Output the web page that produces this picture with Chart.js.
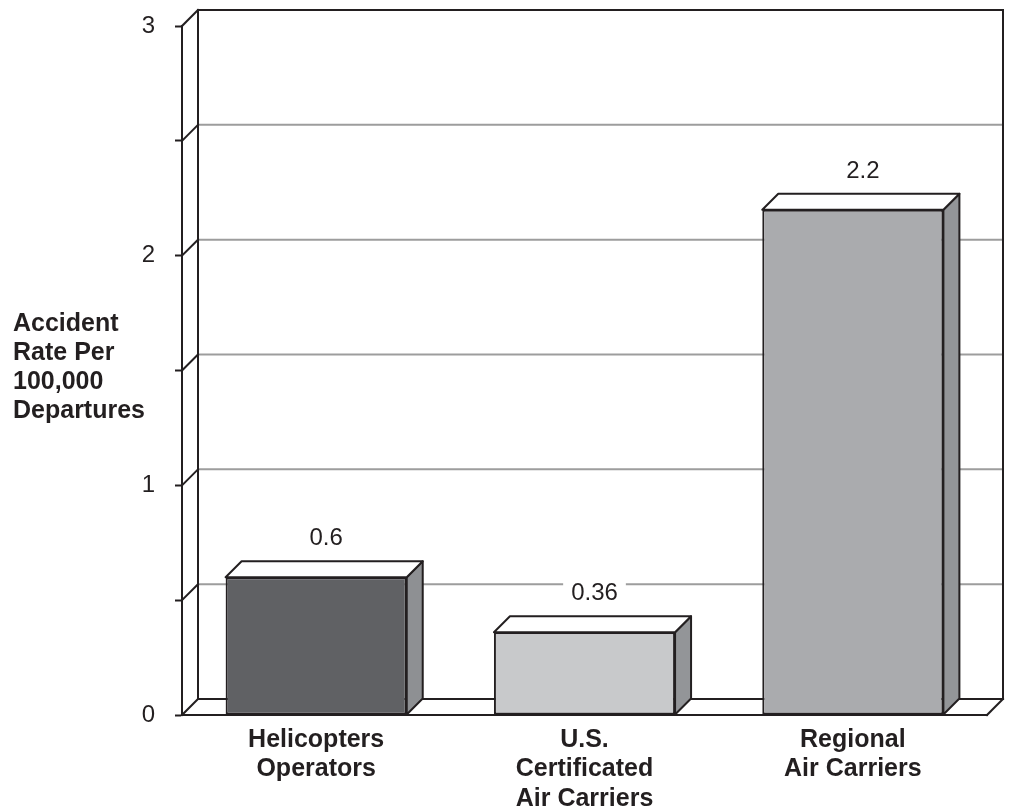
<!DOCTYPE html>
<html>
<head>
<meta charset="utf-8">
<script src="https://cdn.jsdelivr.net/npm/chart.js@4/dist/chart.umd.min.js"></script>
<style>
  html, body { margin: 0; padding: 0; background: #fff; }
  #wrap { width: 1012px; height: 806px; }
</style>
</head>
<body>
<div id="wrap"><canvas id="c" width="1012" height="806"></canvas></div>
<script>
// ---- data ----
const categories = [
  ['Helicopters', 'Operators'],
  ['U.S.', 'Certificated', 'Air Carriers'],
  ['Regional', 'Air Carriers']
];
const rates = [0.6, 0.36, 2.2];
const valueLabels = ['0.6', '0.36', '2.2'];
const yMin = 0, yMax = 3, yStep = 0.5;
const yLabelledTicks = [0, 1, 2, 3];
const yTitleLines = ['Accident', 'Rate Per', '100,000', 'Departures'];

// ---- styles ----
const frontColors = ['#606164', '#c8c9cb', '#aaabae'];
const sideColors = ['#8e9093', '#939598', '#939598'];
const INK = '#231f20';
const GRID = '#9d9d9d';
const FONT = '"Liberation Sans", Arial, Helvetica, sans-serif';
const DX = 16, DY = 16;

const depthPlugin = {
  id: 'depth3d',
  beforeDatasetsDraw(chart) {
    const { ctx, chartArea: a, scales: { y } } = chart;
    ctx.save();
    ctx.lineCap = 'square';
    // back-wall gridlines
    y.ticks.forEach(t => {
      const py = y.getPixelForValue(t.value);
      if (t.value > yMin && t.value < yMax) {
        ctx.strokeStyle = GRID; ctx.lineWidth = 2;
        ctx.beginPath();
        ctx.moveTo(a.left + DX, py - DY);
        ctx.lineTo(a.right + DX, py - DY);
        ctx.stroke();
      }
    });
    ctx.strokeStyle = INK; ctx.lineWidth = 2;
    // diagonals from the front axis to the back wall
    y.ticks.forEach(t => {
      const py = y.getPixelForValue(t.value);
      ctx.beginPath();
      ctx.moveTo(a.left, py);
      ctx.lineTo(a.left + DX, py - DY);
      ctx.stroke();
    });
    ctx.beginPath();
    ctx.moveTo(a.left + DX, a.bottom - DY);
    ctx.lineTo(a.left + DX, a.top - DY);
    ctx.lineTo(a.right + DX, a.top - DY);
    ctx.lineTo(a.right + DX, a.bottom - DY);
    ctx.lineTo(a.left + DX, a.bottom - DY);
    ctx.stroke();
    ctx.beginPath();
    ctx.moveTo(a.right, a.bottom);
    ctx.lineTo(a.right + DX, a.bottom - DY);
    ctx.stroke();

    // y axis title
    ctx.fillStyle = INK;
    ctx.font = 'bold 25px ' + FONT;
    ctx.textAlign = 'left';
    ctx.textBaseline = 'alphabetic';
    yTitleLines.forEach((s, i) => ctx.fillText(s, 13, 331 + i * 29));
    ctx.restore();
  },
  afterDatasetsDraw(chart) {
    const { ctx } = chart;
    const meta = chart.getDatasetMeta(0);
    ctx.save();
    ctx.strokeStyle = INK; ctx.lineWidth = 2; ctx.lineJoin = 'round';
    meta.data.forEach((bar, i) => {
      const p = bar.getProps(['x', 'y', 'base', 'width'], true);
      const l = p.x - p.width / 2, r = p.x + p.width / 2;
      // side face
      ctx.fillStyle = sideColors[i];
      ctx.beginPath();
      ctx.moveTo(r, p.y);
      ctx.lineTo(r + DX, p.y - DY);
      ctx.lineTo(r + DX, p.base - DY);
      ctx.lineTo(r, p.base);
      ctx.closePath();
      ctx.fill(); ctx.stroke();
      // top face
      ctx.fillStyle = '#ffffff';
      ctx.beginPath();
      ctx.moveTo(l, p.y);
      ctx.lineTo(l + DX, p.y - DY);
      ctx.lineTo(r + DX, p.y - DY);
      ctx.lineTo(r, p.y);
      ctx.closePath();
      ctx.fill(); ctx.stroke();
      // value label
      ctx.font = '24px ' + FONT;
      const txt = valueLabels[i];
      const w = ctx.measureText(txt).width;
      const cx = p.x + DX / 2 + 2;
      const by = p.y - DY - 16;
      ctx.fillStyle = '#ffffff';
      ctx.fillRect(cx - w / 2 - 8, by - 20, w + 16, 25);
      ctx.fillStyle = INK;
      ctx.textAlign = 'center';
      ctx.textBaseline = 'alphabetic';
      ctx.fillText(txt, cx, by);
    });
    ctx.restore();
  }
};

new Chart(document.getElementById('c'), {
  type: 'bar',
  data: {
    labels: categories,
    datasets: [{
      data: rates,
      backgroundColor: frontColors,
      borderColor: INK,
      borderWidth: 2,
      borderSkipped: false,
      categoryPercentage: 1,
      barPercentage: 0.675
    }]
  },
  options: {
    responsive: false,
    animation: false,
    devicePixelRatio: 1,
    layout: { padding: { left: 0, top: 26, right: 25, bottom: 0 } },
    plugins: { legend: { display: false }, tooltip: { enabled: false } },
    scales: {
      x: {
        grid: { display: false, drawTicks: false },
        border: { display: true, color: INK, width: 2 },
        ticks: {
          color: INK, padding: 10, maxRotation: 0, autoSkip: false,
          font: { family: FONT, size: 25, weight: 'bold', lineHeight: 1.18 }
        },
        afterFit(s) { s.height = 91; }
      },
      y: {
        min: yMin, max: yMax,
        grid: { drawOnChartArea: false, tickLength: 7, tickColor: INK, tickWidth: 2 },
        border: { display: true, color: INK, width: 2 },
        ticks: {
          stepSize: yStep, color: INK, padding: 20,
          font: { family: FONT, size: 24 },
          callback: v => yLabelledTicks.includes(v) ? String(v) : ''
        },
        afterFit(s) { s.width = 182; s.paddingTop = 0; s.paddingBottom = 0; }
      }
    }
  },
  plugins: [depthPlugin]
});
</script>
</body>
</html>
